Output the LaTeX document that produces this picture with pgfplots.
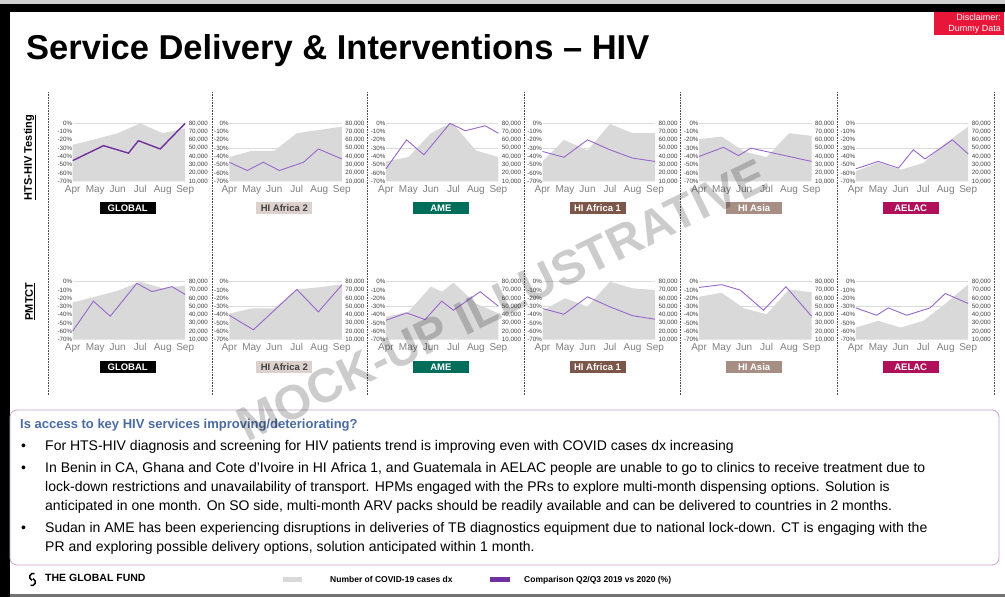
\documentclass[border=0pt]{standalone}
\usepackage{fontspec}
\setmainfont{Liberation Sans}
\usepackage{pgfplots}
\pgfplotsset{compat=1.18}
\definecolor{areagray}{HTML}{D9D9D9}
\definecolor{dpurple}{HTML}{7030A0}
\definecolor{lpurple}{HTML}{9966CC}
\definecolor{monthgray}{HTML}{808080}
\definecolor{ticktext}{HTML}{404040}
\definecolor{cAfr2}{HTML}{DDD1CD}
\definecolor{cAME}{HTML}{006E5A}
\definecolor{cAfr1}{HTML}{7B5649}
\definecolor{cAsia}{HTML}{A68E85}
\definecolor{cAELAC}{HTML}{B0105A}
\definecolor{headblue}{HTML}{4A6BA3}
\definecolor{boxpurple}{HTML}{C5A5CB}
\definecolor{discred}{HTML}{E8173A}
\pgfplotsset{
  base/.style={scale only axis, width=112.5pt, height=58pt, anchor=north west,
    xmin=0, xmax=5, enlargelimits=false, axis line style={draw=none},
    major tick length=0pt,
    tick label style={font=\fontsize{6.2}{7}\selectfont, text=ticktext, inner sep=0.4pt}},
  areaax/.style={base, ymin=10000, ymax=80000, axis x line=none, axis y line*=right,
    scaled y ticks=false,
    ytick={10000,20000,30000,40000,50000,60000,70000,80000},
    yticklabels={{10,000},{20,000},{30,000},{40,000},{50,000},{60,000},{70,000},{80,000}},
    yticklabel style={xshift=3pt},
    extra y ticks={50000,80000}, extra y tick labels={},
    extra y tick style={grid=major, major grid style={draw=black!14, line width=0.6pt}}},
  lineax/.style={base, ymin=-70, ymax=0, axis y line*=left, axis x line*=bottom, clip=false,
    xtick={0,1,2,3,4,5}, xticklabels={Apr,May,Jun,Jul,Aug,Sep},
    ytick={-70,-60,-50,-40,-30,-20,-10,0},
    yticklabels={-70\%,-60\%,-50\%,-40\%,-30\%,-20\%,-10\%,0\%},
    xticklabel style={font=\fontsize{10}{11}\selectfont, text=monthgray, inner sep=1pt,
      text height=7.5pt, text depth=2pt, yshift=-2.5pt}},
}
% #1 left, #2 top, #3 area coords, #4 line coords, #5 line style, #6 label fill, #7 label text colour, #8 label, #9 label y
\newcommand{\panel}[9]{%
  \begin{axis}[areaax, at={(#1pt,#2pt)}]
    \addplot[fill=areagray, draw=none] coordinates {#3} \closedcycle;
  \end{axis}
  \begin{axis}[lineax, at={(#1pt,#2pt)}]
    \addplot[#5] coordinates {#4};
  \end{axis}
  \node[fill=#6, text=#7, font=\bfseries\fontsize{9.5}{10}\selectfont, minimum width=56pt,
        minimum height=11.5pt, inner sep=0pt] at (#1pt+55pt,#9pt) {#8};
}
\begin{document}
\begin{tikzpicture}[x=1pt,y=1pt]
\useasboundingbox (0,0) rectangle (1005,597);
\fill[white] (0,0) rectangle (1005,597);
% frame
\fill[black!18] (0,593) rectangle (1005,597);
\fill[black] (0,585) rectangle (1005,593);
\fill[black] (0,0) rectangle (10,593);
\fill[black!55] (10,0) rectangle (1005,3);
% disclaimer
\fill[discred] (934,562) rectangle (1004,585);
\node[anchor=east, align=right, text=white, font=\fontsize{9}{10.5}\selectfont, inner sep=0pt] at (1001,573.5) {Disclaimer:\\Dummy Data};
% title
\node[anchor=base west, inner sep=0pt, font=\bfseries\fontsize{34.5}{37}\selectfont] at (26,537) {Service Delivery \& Interventions – HIV};
% dotted separators
\foreach \xx in {48,212,367,524,680,837,994}{
  \draw[black!70, line width=0.6pt, densely dotted] (\xx,505) -- (\xx,202);
}
% row labels
\node[rotate=90, font=\bfseries\fontsize{11}{12}\selectfont, inner sep=0pt] at (30,439.5) {\underline{HTS-HIV Testing}};
\node[rotate=90, font=\bfseries\fontsize{11}{12}\selectfont, inner sep=0pt] at (30,295.5) {\underline{PMTCT}};
% ---- row 1
\panel{72.7}{473.7}{(0,54000)(1,60800)(2,68000)(3,80000)(4,68000)(5,74000)}
  {(0,-45)(1.37,-27)(2.48,-36)(2.92,-21)(3.89,-31)(5,0)}
  {dpurple, line width=1.4pt}{black}{white}{GLOBAL}{389}
\panel{229.3}{473.7}{(0,39200)(1,46800)(2,46800)(3,68000)(4,72000)(5,76000)}
  {(0,-47)(0.8,-57)(1.51,-47)(2.23,-57)(3.3,-47)(3.96,-31)(5,-43)}
  {lpurple, line width=0.9pt}{cAfr2}{black!75}{HI Africa 2}{389}
\panel{385.9}{473.7}{(0,34000)(1,39200)(2,68000)(2.85,80000)(3,79000)(4,47200)(5,39200)}
  {(0,-55)(0.92,-20)(1.69,-38)(2.85,0)(3.52,-9)(4.41,-3)(5,-12)}
  {lpurple, line width=0.9pt}{cAME}{white}{AME}{389}
\panel{542.5}{473.7}{(0,34000)(0.95,60000)(2,47200)(3,79200)(4,68000)(5,68000)}
  {(0,-34)(0.95,-41)(2,-20)(3,-32)(4,-42)(5,-46)}
  {lpurple, line width=0.9pt}{cAfr1}{white}{HI Africa 1}{389}
\panel{699.1}{473.7}{(0,60800)(1,64000)(2,46000)(3,39200)(4,68000)(5,64800)}
  {(0,-40)(1.08,-29)(1.75,-39)(2.3,-30)(5,-46)}
  {lpurple, line width=0.9pt}{cAsia}{white}{HI Asia}{389}
\panel{855.7}{473.7}{(0,22000)(1,32800)(2,24000)(3,32000)(4,56000)(5,76000)}
  {(0,-55)(1,-46)(1.9,-54)(2.56,-32)(3.08,-43)(4.3,-20)(5,-37)}
  {lpurple, line width=0.9pt}{cAELAC}{white}{AELAC}{389}
% ---- row 2
\panel{72.7}{315.3}{(0,54900)(1,61800)(2,69100)(3,80000)(4,72000)(5,75200)}
  {(0,-59.5)(0.92,-23.5)(1.67,-41.7)(2.85,-2)(3.52,-12)(4.41,-6)(5,-15.4)}
  {lpurple, line width=0.9pt}{black}{white}{GLOBAL}{230}
\panel{229.3}{315.3}{(0,41600)(1,47700)(2,47700)(3,70700)(4,73200)(5,76800)}
  {(0,-40.5)(1.07,-58)(3,-9.3)(3.96,-36.4)(5,-4)}
  {lpurple, line width=0.9pt}{cAfr2}{black!75}{HI Africa 2}{230}
\panel{385.9}{315.3}{(0,37500)(1,43600)(2,74000)(2.5,68000)(3,78800)(4,53700)(5,41600)}
  {(0,-46.6)(0.92,-37.7)(1.74,-45.7)(2.48,-23.5)(3,-34.4)(4.19,-12.1)(5,-29.6)}
  {lpurple, line width=0.9pt}{cAME}{white}{AME}{230}
\panel{542.5}{315.3}{(0,45000)(1,60000)(2,50000)(3,80000)(4,72000)(5,70000)}
  {(0,-32.4)(0.95,-39.3)(2,-18.2)(3,-30.4)(4,-41)(5,-45.3)}
  {lpurple, line width=0.9pt}{cAfr1}{white}{HI Africa 1}{230}
\panel{699.1}{315.3}{(0,61800)(1,66700)(2,47700)(3,40800)(4,70700)(5,67100)}
  {(0,-6.9)(1,-3.6)(1.83,-10.1)(2.86,-34.4)(3.86,-6.1)(5,-41.7)}
  {lpurple, line width=0.9pt}{cAsia}{white}{HI Asia}{230}
\panel{855.7}{315.3}{(0,24600)(1,32700)(2,24600)(3,32700)(4,53700)(5,76800)}
  {(0,-31.6)(0.93,-40.5)(1.45,-31.6)(2.27,-40.5)(3.31,-31.6)(3.98,-14.2)(5,-26.3)}
  {lpurple, line width=0.9pt}{cAELAC}{white}{AELAC}{230}
% text box
\draw[boxpurple, line width=0.8pt, rounded corners=7pt] (10,187) rectangle (999,32);
\begin{scope}[every node/.style={anchor=base west, inner sep=0pt, font=\fontsize{14}{17}\selectfont}]
\node[font=\bfseries\fontsize{13}{16}\selectfont, text=headblue] at (20,168) {Is access to key HIV services improving/deteriorating?};
\node at (21,146) {•};
\node at (45,146) {For HTS-HIV diagnosis and screening for HIV patients trend is improving even with COVID cases dx increasing};
\node at (21,124) {•};
\node at (45,124) {In Benin in CA, Ghana and Cote d’Ivoire in HI Africa 1, and Guatemala in AELAC people are unable to go to clinics to receive treatment due to};
\node at (45,105) {lock-down restrictions and unavailability of transport. HPMs engaged with the PRs to explore multi-month dispensing options. Solution is};
\node at (45,86) {anticipated in one month. On SO side, multi-month ARV packs should be readily available and can be delivered to countries in 2 months.};
\node at (21,64) {•};
\node at (45,64) {Sudan in AME has been experiencing disruptions in deliveries of TB diagnostics equipment due to national lock-down. CT is engaging with the};
\node at (45,45) {PR and exploring possible delivery options, solution anticipated within 1 month.};
\end{scope}
% logo
\draw[line width=1.5pt] (34.5,23.5) arc[start angle=70, end angle=250, radius=3.6];
\draw[line width=1.5pt] (30.5,11.5) arc[start angle=250, end angle=430, radius=3.6];
\node[anchor=base west, inner sep=0pt, font=\bfseries\fontsize{10.5}{12}\selectfont] at (45,15) {THE GLOBAL FUND};
% legend
\fill[areagray] (283,15) rectangle (302,19.5);
\node[anchor=base west, inner sep=0pt, font=\bfseries\fontsize{8.5}{10}\selectfont] at (330,14) {Number of COVID-19 cases dx};
\fill[dpurple] (490,15) rectangle (510,19.5);
\node[anchor=base west, inner sep=0pt, font=\bfseries\fontsize{8.5}{10}\selectfont] at (524,14) {Comparison Q2/Q3 2019 vs 2020 (\%)};
% watermark
\node[rotate=26, text=black, opacity=0.2, inner sep=0pt, font=\bfseries\fontsize{48}{48}\selectfont] at (502,297) {MOCK-UP ILLUSTRATIVE};
\end{tikzpicture}
\end{document}
